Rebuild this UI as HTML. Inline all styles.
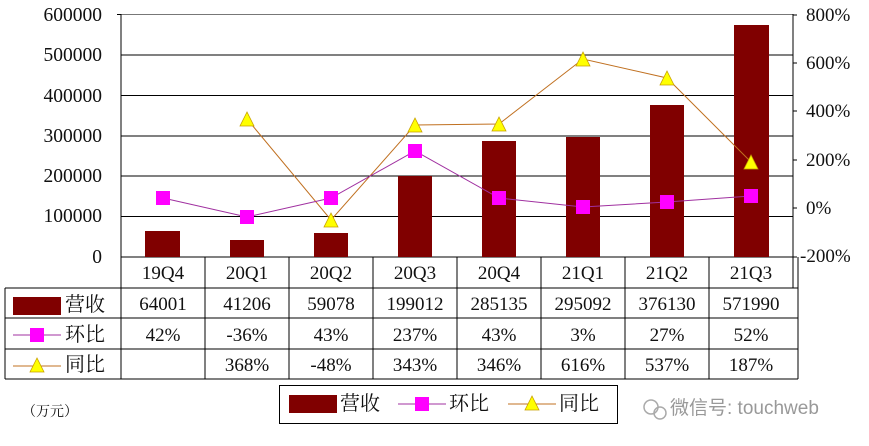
<!DOCTYPE html>
<html><head><meta charset="utf-8"><style>
body{margin:0;background:#fff;}
svg{display:block;}
text{font-family:"Liberation Serif","Noto Serif CJK SC",serif;fill:#111;}
</style></head><body>
<svg width="869" height="446" viewBox="0 0 869 446" xmlns="http://www.w3.org/2000/svg">
<g stroke="#000" stroke-width="1">
<line x1="121" y1="14.5" x2="793" y2="14.5" stroke="#777"/>
<line x1="121" y1="55" x2="793" y2="55"/>
<line x1="121" y1="95.5" x2="793" y2="95.5"/>
<line x1="121" y1="136" x2="793" y2="136"/>
<line x1="121" y1="176" x2="793" y2="176"/>
<line x1="121" y1="216.5" x2="793" y2="216.5"/>
<line x1="121" y1="257" x2="793" y2="257"/>
<line x1="121" y1="14" x2="121" y2="379"/>
<line x1="793" y1="14" x2="793" y2="288"/>
<line x1="117" y1="14.5" x2="121" y2="14.5"/>
<line x1="793" y1="15" x2="797" y2="15"/><line x1="793" y1="63" x2="797" y2="63"/>
<line x1="793" y1="111" x2="797" y2="111"/><line x1="793" y1="160" x2="797" y2="160"/>
<line x1="793" y1="208" x2="797" y2="208"/><line x1="793" y1="257" x2="797" y2="257"/>
<line x1="5" y1="288" x2="798" y2="288"/>
<line x1="5" y1="318" x2="798" y2="318"/>
<line x1="5" y1="349" x2="798" y2="349"/>
<line x1="5" y1="379" x2="798" y2="379"/>
<line x1="5" y1="288" x2="5" y2="379"/>
<line x1="798" y1="257" x2="798" y2="379"/>
<line x1="205" y1="257" x2="205" y2="379"/><line x1="289" y1="257" x2="289" y2="379"/>
<line x1="373" y1="257" x2="373" y2="379"/><line x1="457" y1="257" x2="457" y2="379"/>
<line x1="541" y1="257" x2="541" y2="379"/><line x1="625" y1="257" x2="625" y2="379"/>
<line x1="709" y1="257" x2="709" y2="379"/>
</g>
<g font-size="19.5" text-anchor="end">
<text x="102" y="21">600000</text><text x="102" y="61">500000</text>
<text x="102" y="102">400000</text><text x="102" y="142">300000</text>
<text x="102" y="182">200000</text><text x="102" y="222">100000</text>
<text x="102" y="263">0</text>
</g>
<g font-size="19">
<text x="806" y="21">800%</text><text x="806" y="69">600%</text>
<text x="806" y="117">400%</text><text x="806" y="166">200%</text>
<text x="806" y="214">0%</text><text x="800" y="262">-200%</text>
</g>
<g fill="#800000">
<rect x="145" y="231" width="35" height="26"/>
<rect x="230" y="240" width="34" height="17"/>
<rect x="314" y="233" width="34" height="24"/>
<rect x="398" y="176" width="34" height="81"/>
<rect x="482" y="141" width="34" height="116"/>
<rect x="566" y="137" width="34" height="120"/>
<rect x="650" y="105" width="34" height="152"/>
<rect x="734" y="25" width="35" height="232"/>
</g>
<polyline fill="none" stroke="#c07020" stroke-width="1" points="247,119 331,220 415,125 499,124 583,59 667,78 751,162"/>
<g fill="#ffff00" stroke="#c8a000" stroke-width="0.8">
<polygon points="247,112 240,126 254,126"/><polygon points="331,213 324,227 338,227"/>
<polygon points="415,118 408,132 422,132"/><polygon points="499,117 492,131 506,131"/>
<polygon points="583,52 576,66 590,66"/><polygon points="667,71 660,85 674,85"/>
<polygon points="751,155 744,169 758,169"/>
</g>
<polyline fill="none" stroke="#a030a0" stroke-width="1" points="163,198 247,217 331,198 415,151 499,198 583,207 667,202 751,196"/>
<g fill="#ff00ff">
<rect x="156" y="191" width="14" height="14"/><rect x="240" y="210" width="14" height="14"/>
<rect x="324" y="191" width="14" height="14"/><rect x="408" y="144" width="14" height="14"/>
<rect x="492" y="191" width="14" height="14"/><rect x="576" y="200" width="14" height="14"/>
<rect x="660" y="195" width="14" height="14"/><rect x="744" y="189" width="14" height="14"/>
</g>
<g font-size="19" text-anchor="middle">
<text x="163" y="279">19Q4</text><text x="247" y="279">20Q1</text><text x="331" y="279">20Q2</text>
<text x="415" y="279">20Q3</text><text x="499" y="279">20Q4</text><text x="583" y="279">21Q1</text>
<text x="667" y="279">21Q2</text><text x="751" y="279">21Q3</text>
<text x="163" y="310">64001</text><text x="247" y="310">41206</text><text x="331" y="310">59078</text>
<text x="415" y="310">199012</text><text x="499" y="310">285135</text><text x="583" y="310">295092</text>
<text x="667" y="310">376130</text><text x="751" y="310">571990</text>
<text x="163" y="341">42%</text><text x="247" y="341">-36%</text><text x="331" y="341">43%</text>
<text x="415" y="341">237%</text><text x="499" y="341">43%</text><text x="583" y="341">3%</text>
<text x="667" y="341">27%</text><text x="751" y="341">52%</text>
<text x="247" y="371">368%</text><text x="331" y="371">-48%</text>
<text x="415" y="371">343%</text><text x="499" y="371">346%</text><text x="583" y="371">616%</text>
<text x="667" y="371">537%</text><text x="751" y="371">187%</text>
</g>
<rect x="13" y="297" width="48" height="18" fill="#800000"/>
<text x="65" y="311" font-size="20">营收</text>
<line x1="13" y1="335" x2="61" y2="335" stroke="#a030a0"/>
<rect x="30" y="328" width="14" height="14" fill="#ff00ff"/>
<text x="65" y="341" font-size="20">环比</text>
<line x1="13" y1="366" x2="61" y2="366" stroke="#c07020"/>
<polygon points="37,358 30,372 44,372" fill="#ffff00" stroke="#c8a000" stroke-width="0.8"/>
<text x="65" y="371" font-size="20">同比</text>
<rect x="279.5" y="385.5" width="338" height="38" fill="#fff" stroke="#000"/>
<rect x="289" y="395" width="48" height="18" fill="#800000"/>
<text x="340" y="410" font-size="20">营收</text>
<line x1="398" y1="404" x2="446" y2="404" stroke="#a030a0"/>
<rect x="415" y="397" width="14" height="14" fill="#ff00ff"/>
<text x="449" y="410" font-size="20">环比</text>
<line x1="508" y1="404" x2="556" y2="404" stroke="#c07020"/>
<polygon points="532,396 525,410 539,410" fill="#ffff00" stroke="#c8a000" stroke-width="0.8"/>
<text x="559" y="410" font-size="20">同比</text>
<text x="22" y="416" font-size="14">（万元）</text>
<circle cx="651" cy="407" r="7" fill="none" stroke="#aaa" stroke-width="1.5"/>
<circle cx="660" cy="413" r="6" fill="none" stroke="#aaa" stroke-width="1.5"/>
<text x="670" y="414" font-size="19" style="fill:#999;font-family:'Liberation Sans','Noto Sans CJK SC',sans-serif">微信号: touchweb</text>
</svg>
</body></html>
